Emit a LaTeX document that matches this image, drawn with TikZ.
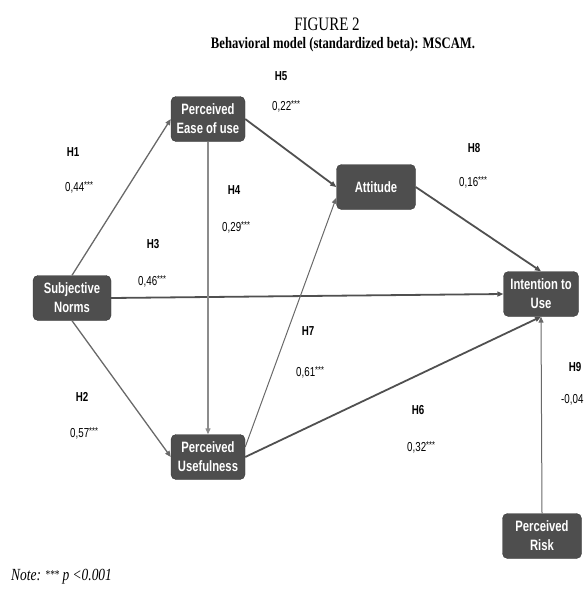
\documentclass[tikz,border=0pt]{standalone}
\usepackage{fontspec}
\setmainfont{Liberation Serif}
\newfontfamily\boxfont[FakeStretch=0.75]{Liberation Sans}
\newfontfamily\capfont[FakeStretch=0.79]{Liberation Serif}
\usetikzlibrary{arrows.meta}
\definecolor{boxgray}{RGB}{78,78,78}
\definecolor{linegray}{RGB}{80,80,80}
\definecolor{midline}{RGB}{105,105,105}
\definecolor{lightline}{RGB}{140,140,140}
\newcommand\stars{\raisebox{3pt}{\fontsize{10}{10}\selectfont ***}}

\begin{document}
\begin{tikzpicture}[x=1pt, y=-1pt,
    >={Triangle[length=6pt,width=5pt]},
    construct/.style={draw=boxgray!70!black, fill=boxgray, rounded corners=5pt,
      text=white, align=center, minimum width=74pt, minimum height=45pt,
      inner sep=1pt, font=\boxfont\bfseries\fontsize{15}{19}\selectfont},
    hyp/.style={font=\boxfont\bfseries\fontsize{13}{15}\selectfont},
    coef/.style={anchor=west, inner sep=0pt, font=\boxfont\fontsize{13}{15}\selectfont},
    bigarrow/.style={->, draw=linegray, line width=1.8pt},
    medarrow/.style={->, draw=midline, line width=1.3pt},
    smallarrow/.style={->, draw=midline, line width=1pt},
    lightarrow/.style={->, draw=lightline, line width=1.2pt}]
    \useasboundingbox (0,0) rectangle (588,589);
    \node[font=\capfont\fontsize{19}{20}\selectfont] (fig) at (327,24) {FIGURE 2};
    \node[font=\capfont\bfseries\fontsize{16}{18}\selectfont] (caption) at (343,45)
      {Behavioral model (standardized beta): MSCAM.};
    \node[construct] (peou) at (208,119) {Perceived\\Ease of use};
    \node[construct, minimum width=79pt] (att) at (376,187) {Attitude};
    \node[construct, minimum width=78pt] (sn) at (72,298) {Subjective\\Norms};
    \node[construct, minimum width=75pt] (itu) at (541,294) {Intention to\\Use};
    \node[construct] (pu) at (208,457) {Perceived\\Usefulness};
    \node[construct, minimum width=79pt] (pr) at (542,536) {Perceived\\Risk};
    \draw[medarrow] (sn.north) -- (peou.west);
    \draw[medarrow] (sn.south) -- (pu.west);
    \draw[bigarrow] (sn.east) -- (itu.west);
    \draw[bigarrow] (peou.east) -- (att.west);
    \draw[lightarrow] (peou.south) -- (pu.north);
    \draw[smallarrow] (pu.15) -- (att.195);
    \draw[bigarrow] (pu.east) -- (itu.south);
    \draw[bigarrow] (att.east) -- (itu.north);
    \draw[smallarrow] (pr.north) -- (itu.south);
    \foreach \lab/\x/\y in {H1/73/152, H2/82/397, H3/153/244, H4/234/190, H5/281/76,
      H6/418/410, H7/308/331, H8/474/148, H9/575/367}{
      \node[hyp] (\lab) at (\x,\y) {\lab};
    }
    \foreach \name/\val/\x/\y in {c1/{0,44}/65/187, c2/{0,57}/70/433, c3/{0,46}/138/281,
      c4/{0,29}/222/227, c5/{0,22}/272/106, c6/{0,32}/407/447, c7/{0,61}/296/372,
      c8/{0,16}/459/182}{
      \node[coef] (\name) at (\x,\y) {\val\stars};
    }
    \node[coef] (c9) at (561,400) {-0,04};
    \node[anchor=west, inner sep=0pt, font=\capfont\fontsize{17}{18}\selectfont] (note) at (11,577)
      {\textit{Note:} \raisebox{2pt}{\fontsize{12}{12}\selectfont ***}\,\textit{p <0.001}};
  \end{tikzpicture}
\end{document}
